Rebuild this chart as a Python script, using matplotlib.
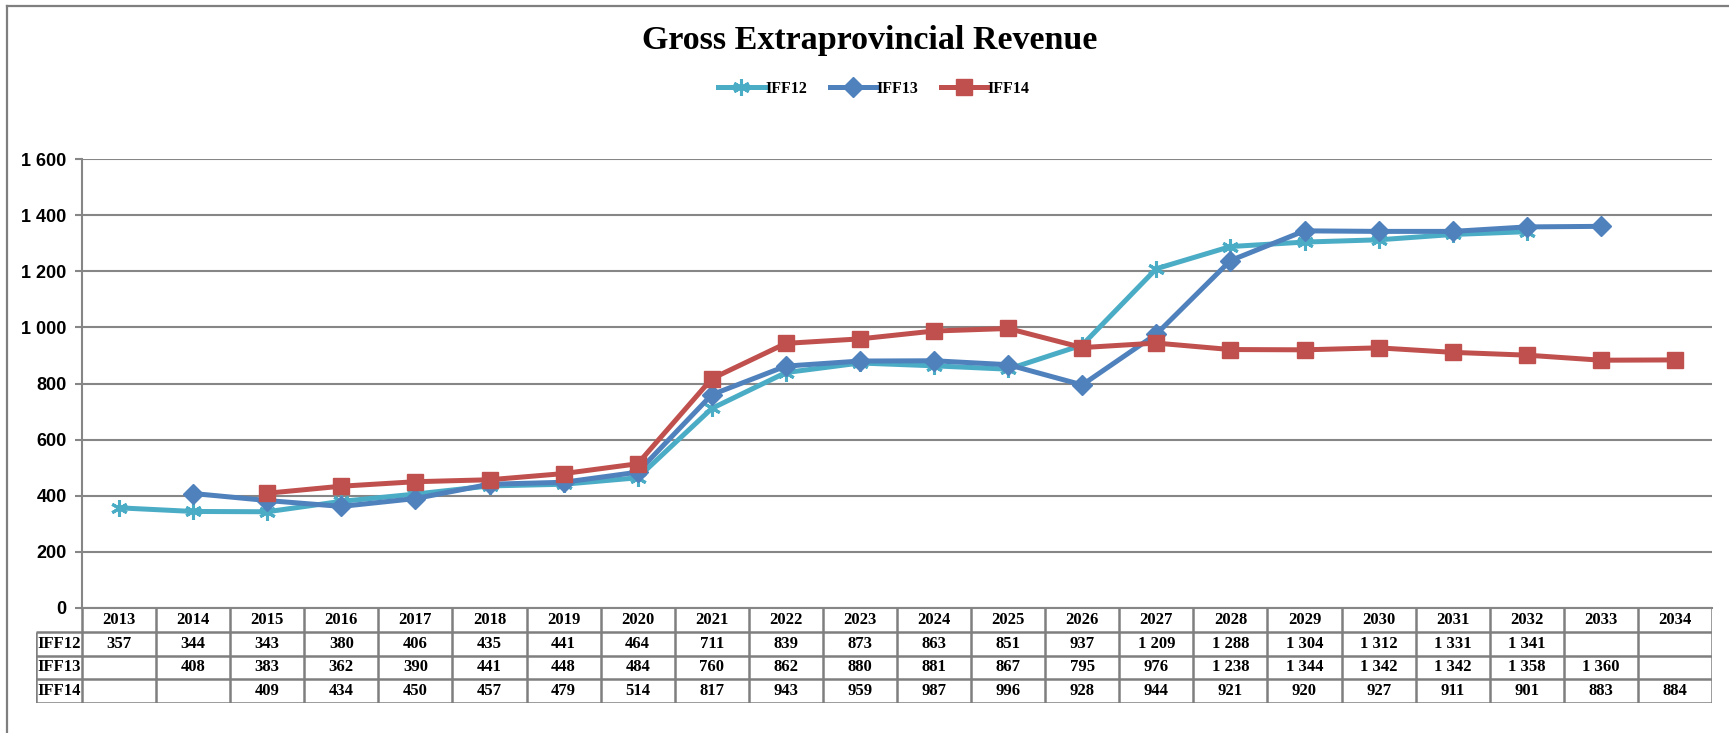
import numpy as np
import matplotlib.pyplot as plt
from matplotlib.lines import Line2D

# Gross extraprovincial revenue forecasts by year
years = list(range(2013, 2035))
iff12 = [357, 344, 343, 380, 406, 435, 441, 464, 711, 839, 873, 863, 851, 937,
         1209, 1288, 1304, 1312, 1331, 1341, None, None]
iff13 = [None, 408, 383, 362, 390, 441, 448, 484, 760, 862, 880, 881, 867, 795,
         976, 1238, 1344, 1342, 1342, 1358, 1360, None]
iff14 = [None, None, 409, 434, 450, 457, 479, 514, 817, 943, 959, 987, 996, 928,
         944, 921, 920, 927, 911, 901, 883, 884]
series_names = ["IFF12", "IFF13", "IFF14"]
series = [iff12, iff13, iff14]
colors = ["#4BACC6", "#4F81BD", "#C0504D"]
markers = [(6, 2, 0), "D", "s"]
msizes = [12, 10, 11]

W, H = 1729, 733
fig = plt.figure(figsize=(W / 100, H / 100), dpi=100)
grey = "#868686"

# outer chart frame (only left and top edges fall inside the image)
fig.add_artist(Line2D([7 / W, 7 / W], [0, 1 - 6 / H], color="#7f7f7f", lw=1.6))
fig.add_artist(Line2D([7 / W, 1], [1 - 6 / H, 1 - 6 / H], color="#7f7f7f", lw=1.6))

x0, x1 = 82, 1712
y_top, y_zero = 159, 608
ax = fig.add_axes([x0 / W, 1 - y_zero / H, (x1 - x0) / W, (y_zero - y_top) / H])
x = np.arange(len(years))

for name, vals, c, m, ms in zip(series_names, series, colors, markers, msizes):
    v = np.array([np.nan if a is None else a for a in vals], dtype=float)
    ax.plot(x, v, color=c, lw=3.6, marker=m, markersize=ms,
            markeredgewidth=2.2 if name == "IFF12" else 1, markeredgecolor=c,
            label=name, solid_joinstyle="round", clip_on=False, zorder=3)

ax.set_xlim(-0.5, len(years) - 0.5)
ax.set_ylim(0, 1600)
ax.set_yticks(range(0, 1601, 200))
ax.set_yticklabels([f"{t:,}".replace(",", " ") for t in range(0, 1601, 200)],
                   fontfamily="Liberation Sans", fontweight="bold", fontsize=13)
ax.set_xticks([])
ax.yaxis.grid(True, color=grey, lw=1.5)
ax.set_axisbelow(True)
for s in ["top", "right"]:
    ax.spines[s].set_visible(False)
for s in ["left", "bottom"]:
    ax.spines[s].set_color(grey)
    ax.spines[s].set_linewidth(1.5)
ax.tick_params(axis="y", length=5, width=1.5, color=grey, pad=6)

# title and legend
fig.text(870 / W, 1 - 41 / H, "Gross Extraprovincial Revenue", ha="center", va="center",
         fontfamily="Liberation Serif", fontweight="bold", fontsize=24.5)
leg = fig.legend(loc="center", bbox_to_anchor=(874 / W, 1 - 89 / H), ncol=3,
                 frameon=False, handlelength=2.9, handletextpad=0.05, columnspacing=1.4,
                 prop={"family": "Liberation Serif", "weight": "bold", "size": 11.5})

# data table below the plot
lab_left = 36
col_w = (x1 - x0) / len(years)
tx_left = -0.5 - (x0 - lab_left) / col_w
tab = fig.add_axes([lab_left / W, 30 / H, (x1 - lab_left) / W, 95 / H])
tab.set_xlim(tx_left, len(years) - 0.5)
tab.set_ylim(4, 0)
tab.axis("off")
tcolor = "#7f7f7f"
tab.hlines([1, 2, 3, 4], tx_left, len(years) - 0.5, color=tcolor, lw=1.8)
tab.vlines(np.arange(len(years) + 1) - 0.5, 0, 4, color=tcolor, lw=1.8)
tab.vlines([tx_left], 1, 4, color=tcolor, lw=1.8)
cell_font = {"family": "Liberation Serif", "weight": "bold", "size": 12}
for i, yr in enumerate(years):
    tab.text(i, 0.5, str(yr), ha="center", va="center", **cell_font)
for r, (name, vals) in enumerate(zip(series_names, series), start=1):
    tab.text((tx_left - 0.5) / 2, r + 0.5, name, ha="center", va="center", **cell_font)
    for i, v in enumerate(vals):
        if v is not None:
            tab.text(i, r + 0.5, f"{v:,}".replace(",", " "), ha="center", va="center",
                     **cell_font)

fig.savefig("out.png", dpi=100)
